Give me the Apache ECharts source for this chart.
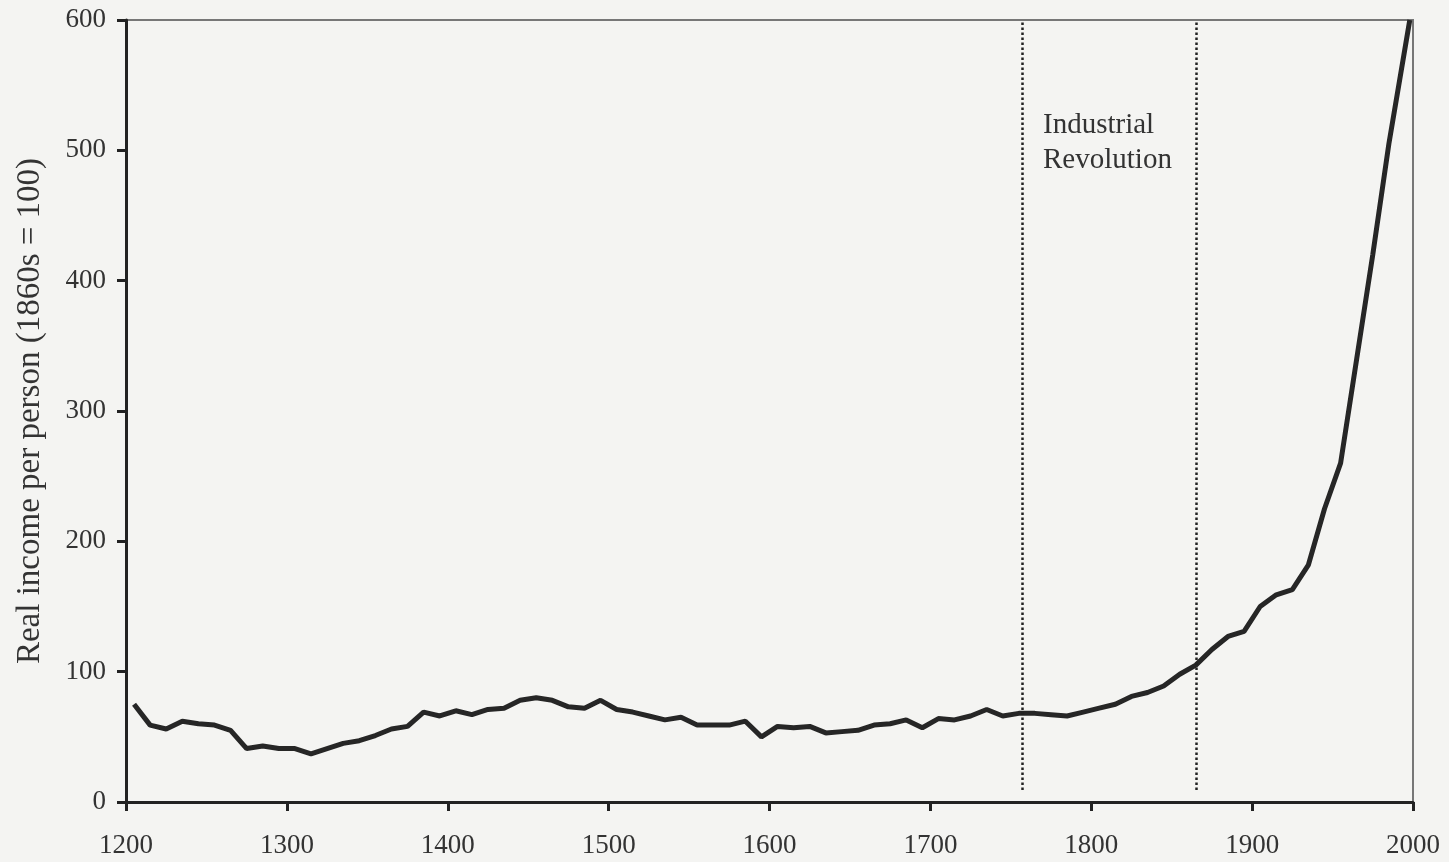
<!DOCTYPE html>
<html>
<head>
<meta charset="utf-8">
<script src="https://cdn.jsdelivr.net/npm/echarts@6/dist/echarts.min.js"></script>
<style>
  html, body { margin: 0; padding: 0; background: #f4f4f2; }
  #chart { width: 1449px; height: 862px; }
</style>
</head>
<body>
<div id="chart"></div>
<script>
// decade mid-points, real income per person (1860s = 100)
const years = [
  1205, 1215, 1225, 1235, 1245, 1255, 1265, 1275, 1285, 1295,
  1305, 1315, 1325, 1335, 1345, 1355, 1365, 1375, 1385, 1395,
  1405, 1415, 1425, 1435, 1445, 1455, 1465, 1475, 1485, 1495,
  1505, 1515, 1525, 1535, 1545, 1555, 1565, 1575, 1585, 1595,
  1605, 1615, 1625, 1635, 1645, 1655, 1665, 1675, 1685, 1695,
  1705, 1715, 1725, 1735, 1745, 1755, 1765, 1775, 1785, 1795,
  1805, 1815, 1825, 1835, 1845, 1855, 1865, 1875, 1885, 1895,
  1905, 1915, 1925, 1935, 1945, 1955, 1965, 1975, 1985, 1998
]
const income = [
  75, 59, 56, 62, 60, 59, 55, 41, 43, 41,
  41, 37, 41, 45, 47, 51, 56, 58, 69, 66,
  70, 67, 71, 72, 78, 80, 78, 73, 72, 78,
  71, 69, 66, 63, 65, 59, 59, 59, 62, 50,
  58, 57, 58, 53, 54, 55, 59, 60, 63, 57,
  64, 63, 66, 71, 66, 68, 68, 67, 66, 69,
  72, 75, 81, 84, 89, 98, 105, 117, 127, 131,
  150, 159, 163, 182, 225, 260, 340, 420, 505, 600
]
// Industrial Revolution bounds
const irStart = 1757
const irEnd = 1865

const font = 'Liberation Serif'
const chart = echarts.init(document.getElementById('chart'))

chart.setOption({
  backgroundColor: '#f4f4f2',
  animation: false,
  grid: {
    left: 126,
    right: 36,
    top: 20,
    bottom: 60,
    show: true,
    borderColor: '#777',
    borderWidth: 2
  },
  xAxis: {
    type: 'value',
    min: 1200,
    max: 2000,
    interval: 100,
    axisLine: { lineStyle: { color: '#222', width: 3 } },
    axisTick: { length: 9, lineStyle: { color: '#222', width: 3 } },
    splitLine: { show: false },
    axisLabel: {
      color: '#333', fontFamily: font, fontSize: 27, margin: 30,
      formatter: v => String(v)
    }
  },
  yAxis: {
    type: 'value',
    min: 0,
    max: 600,
    interval: 100,
    name: 'Real income per person (1860s = 100)',
    nameLocation: 'middle',
    nameGap: 79,
    nameTextStyle: { color: '#333', fontFamily: font, fontSize: 33 },
    axisLine: { show: true, lineStyle: { color: '#222', width: 3 } },
    axisTick: { show: true, length: 9, lineStyle: { color: '#222', width: 3 } },
    splitLine: { show: false },
    axisLabel: { color: '#333', fontFamily: font, fontSize: 27, margin: 20 }
  },
  graphic: [{
    type: 'text',
    left: 1043,
    top: 108,
    style: {
      text: 'Industrial\nRevolution',
      font: '29px "Liberation Serif"',
      fill: '#333',
      lineHeight: 35
    }
  }],
  series: [{
    type: 'line',
    data: years.map((y, i) => [y, income[i]]),
    symbol: 'none',
    lineStyle: { color: '#262626', width: 5 },
    markLine: {
      silent: true,
      symbol: 'none',
      label: { show: false },
      lineStyle: { color: '#222', type: [2.5, 2.5], width: 2.5 },
      data: [
        [{ coord: [irStart, 598] }, { coord: [irStart, 9] }],
        [{ coord: [irEnd, 598] }, { coord: [irEnd, 9] }]
      ]
    }
  }]
})
</script>
</body>
</html>
